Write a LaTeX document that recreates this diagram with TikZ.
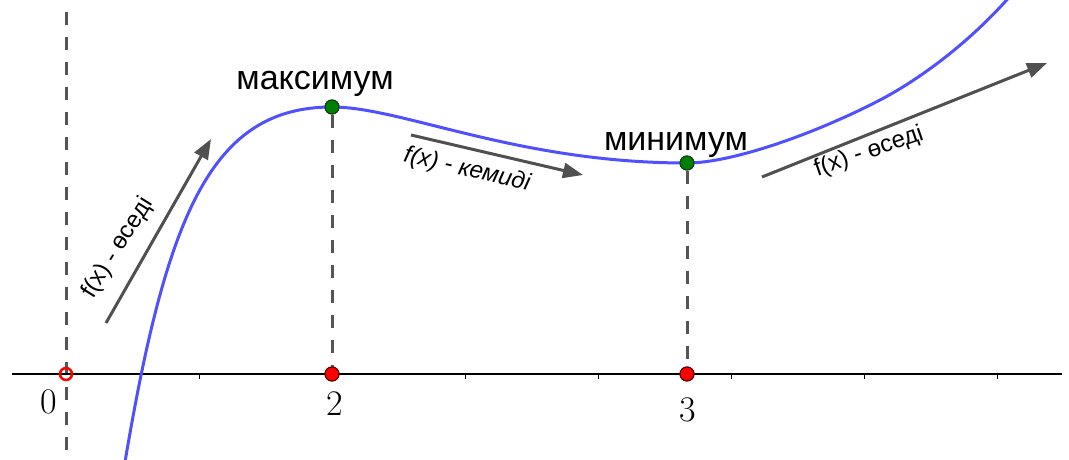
\documentclass[tikz,border=0pt]{standalone}
\usepackage{fontspec}
\newfontfamily\sansf{Liberation Sans}
\usetikzlibrary{arrows.meta}
\definecolor{curveblue}{RGB}{80,80,255}
\definecolor{dashgray}{RGB}{85,85,85}
\definecolor{arrowgray}{RGB}{80,80,80}
\definecolor{ptgreen}{RGB}{0,128,0}
\definecolor{ptgreenedge}{RGB}{20,60,20}
\definecolor{ptrededge}{RGB}{90,0,0}
\tikzset{
  dashline/.style={draw=dashgray, line width=3pt, dash pattern=on 13pt off 12pt},
  trend/.style={draw=arrowgray, line width=3pt, -{Triangle[length=20pt,width=15pt]}},
  greendot/.style={circle, fill=ptgreen, draw=ptgreenedge, line width=1pt, minimum size=14pt, inner sep=0pt},
  reddot/.style={circle, fill=red, draw=ptrededge, line width=1pt, minimum size=14pt, inner sep=0pt},
  opendot/.style={circle, draw=red, fill=none, line width=2.5pt, minimum size=12pt, inner sep=0pt},
  biglabel/.style={font=\sansf\fontsize{34}{40}\selectfont, inner sep=0pt, anchor=base},
  smalllabel/.style={font=\sansf\fontsize{24}{28}\selectfont, inner sep=0pt},
  numlabel/.style={font=\fontsize{36}{42}\selectfont, inner sep=0pt, anchor=base},
  tickmark/.style={draw=black, line width=1pt},
  axisline/.style={draw=black, line width=1.5pt},
  graph/.style={draw=curveblue, line width=3pt}
}
\begin{document}
\begin{tikzpicture}[x=1pt,y=-1pt]
\useasboundingbox (0,0) rectangle (1069,460);
\clip (0,0) rectangle (1069,460);
% coordinates
\coordinate (v0top) at (66,-1);
\coordinate (v0bot) at (66,470);
\coordinate (axL) at (12,374);
\coordinate (axR) at (1062,374);
% dashed asymptote
\draw[dashline, dash phase=12pt] (v0top) -- (v0bot);
% axis
\draw[axisline] (axL) -- (axR);
\foreach \tx in {199,465,598,731,864,997}{
  \draw[tickmark] (\tx,374) -- (\tx,379);
}
% points (nodes)
\node[greendot] (pmax) at (332,107) {};
\node[greendot] (pmin) at (687,163) {};
\node[reddot] (xmax) at (332,374) {};
\node[reddot] (xmin) at (687,374) {};
\node[opendot] (x0) at (66,374) {};
% dashed drops
\draw[dashline] (pmax) -- (xmax);
\draw[dashline] (pmin) -- (xmin);
% curve
\draw[graph] (125,462) .. controls (167,213) and (212,107) .. (332,107)
  .. controls (402,107) and (517,163) .. (687,163)
  .. controls (732,163) and (815,133.8) .. (880,100)
  .. controls (912,83.4) and (965,48) .. (1012,-6);
% redraw points on top
\node[greendot] at (pmax) {};
\node[greendot] at (pmin) {};
\node[reddot] at (xmax) {};
\node[reddot] at (xmin) {};
% trend arrows
\coordinate (a1s) at (106,323);
\coordinate (a1e) at (211,139);
\coordinate (a2s) at (411,135);
\coordinate (a2e) at (583,175);
\coordinate (a3s) at (762,177);
\coordinate (a3e) at (1047,63);
\draw[trend] (a1s) -- (a1e);
\draw[trend] (a2s) -- (a2e);
\draw[trend] (a3s) -- (a3e);
% labels
\node[biglabel] (lmax) at (315,89) {максимум};
\node[biglabel] (lmin) at (676,150) {минимум};
\node[smalllabel, rotate=58] (t1) at (118,248) {f(x) - өседі};
\node[smalllabel, rotate=-13] (t2) at (467,170) {\itshape f(x) - кемиді};
\node[smalllabel, rotate=19] (t3) at (869,152) {f(x) - өседі};
\node[numlabel] (n0) at (49,413) {0};
\node[numlabel] (n2) at (335,415) {2};
\node[numlabel] (n3) at (688,421) {3};
\end{tikzpicture}
\end{document}
